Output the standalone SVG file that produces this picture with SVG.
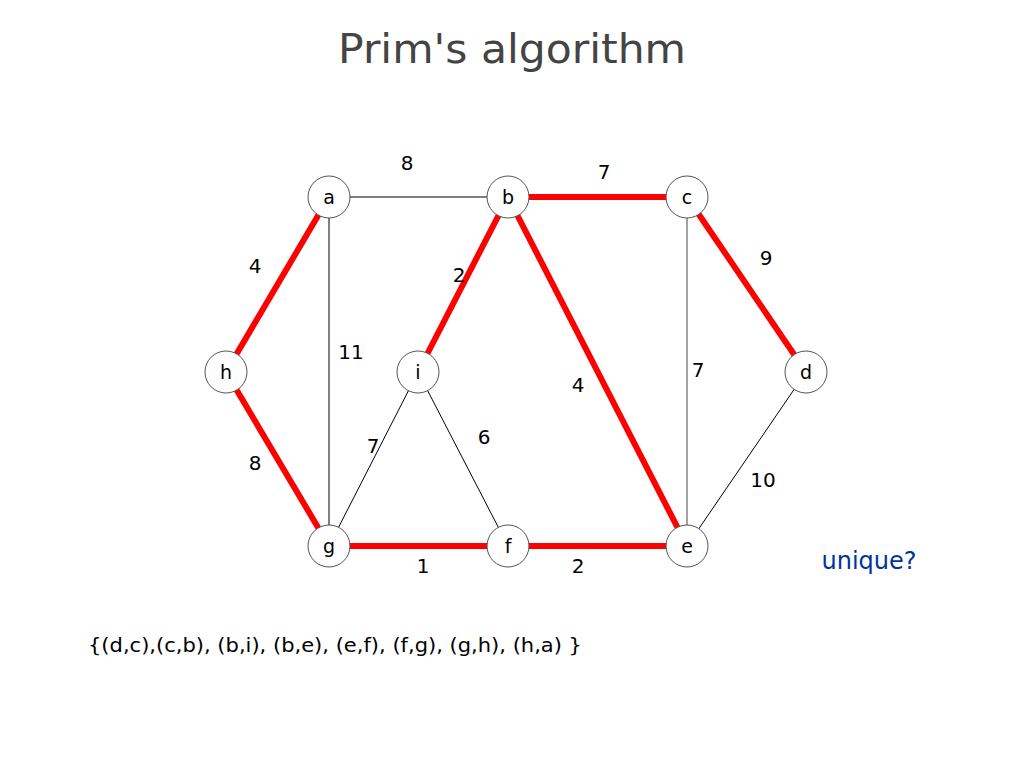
<svg xmlns="http://www.w3.org/2000/svg" width="1024" height="768" viewBox="0 0 1024 768">
<style>
text{font-family:"Comic Sans MS","DejaVu Sans","Noto Sans",sans-serif;}
.title{font-size:40px;fill:#444;text-anchor:middle;}
.w{font-size:20px;fill:#000;text-anchor:middle;}
.n{font-size:19px;fill:#000;text-anchor:middle;}
.node circle{fill:#fff;stroke:#555;stroke-width:1;}
.red{stroke:#ff0000;stroke-width:6;}
.thin{stroke:#000;stroke-width:1;}
.gray{stroke:#666;stroke-width:1.2;}
</style>
<rect width="1024" height="768" fill="#fff"/>
<text class="title" x="512" y="63" textLength="348" lengthAdjust="spacingAndGlyphs">Prim's algorithm</text>
<g id="connectors">
<line class="thin" x1="329" y1="197" x2="508" y2="197"/>
<line class="thin" x1="329" y1="197" x2="329" y2="546"/>
<line class="thin" x1="418" y1="372" x2="329" y2="546"/>
<line class="thin" x1="418" y1="372" x2="508" y2="546"/>
<line class="gray" x1="687" y1="197" x2="687" y2="546"/>
<line class="thin" x1="806" y1="372" x2="687" y2="546"/>
<line class="red" x1="226" y1="372" x2="329" y2="197"/>
<line class="red" x1="508" y1="197" x2="418" y2="372"/>
<line class="red" x1="508" y1="197" x2="687" y2="197"/>
<line class="red" x1="687" y1="197" x2="806" y2="372"/>
<line class="red" x1="508" y1="197" x2="687" y2="546"/>
<line class="red" x1="329" y1="546" x2="508" y2="546"/>
<line class="red" x1="508" y1="546" x2="687" y2="546"/>
<line class="red" x1="226" y1="372" x2="329" y2="546"/>
</g>
<g id="weights">
<text class="w" x="407" y="170">8</text>
<text class="w" x="604" y="179">7</text>
<text class="w" x="255" y="273">4</text>
<text class="w" x="459" y="282">2</text>
<text class="w" x="766" y="265">9</text>
<text class="w" x="351" y="359">11</text>
<text class="w" x="698" y="377">7</text>
<text class="w" x="578" y="392">4</text>
<text class="w" x="373" y="453">7</text>
<text class="w" x="484" y="444">6</text>
<text class="w" x="255" y="470">8</text>
<text class="w" x="763" y="487">10</text>
<text class="w" x="423" y="573">1</text>
<text class="w" x="578" y="573">2</text>
</g>
<g id="node-a" class="node"><circle cx="329" cy="197" r="21"/><text class="n" x="329" y="204">a</text></g>
<g id="node-b" class="node"><circle cx="508" cy="197" r="21"/><text class="n" x="508" y="204">b</text></g>
<g id="node-c" class="node"><circle cx="687" cy="197" r="21"/><text class="n" x="687" y="204">c</text></g>
<g id="node-h" class="node"><circle cx="226" cy="372" r="21"/><text class="n" x="226" y="379">h</text></g>
<g id="node-i" class="node"><circle cx="418" cy="372" r="21"/><text class="n" x="418" y="379">i</text></g>
<g id="node-d" class="node"><circle cx="806" cy="372" r="21"/><text class="n" x="806" y="379">d</text></g>
<g id="node-g" class="node"><circle cx="329" cy="546" r="21"/><text class="n" x="329" y="553">g</text></g>
<g id="node-f" class="node"><circle cx="508" cy="546" r="21"/><text class="n" x="508" y="553">f</text></g>
<g id="node-e" class="node"><circle cx="687" cy="546" r="21"/><text class="n" x="687" y="553">e</text></g>
<text x="869" y="569" style="font-size:24px;fill:#0033a0;text-anchor:middle;">unique?</text>
<text x="88" y="652" style="font-size:20px;fill:#000;" textLength="494" lengthAdjust="spacingAndGlyphs">{(d,c),(c,b), (b,i), (b,e), (e,f), (f,g), (g,h), (h,a) }</text>
</svg>
